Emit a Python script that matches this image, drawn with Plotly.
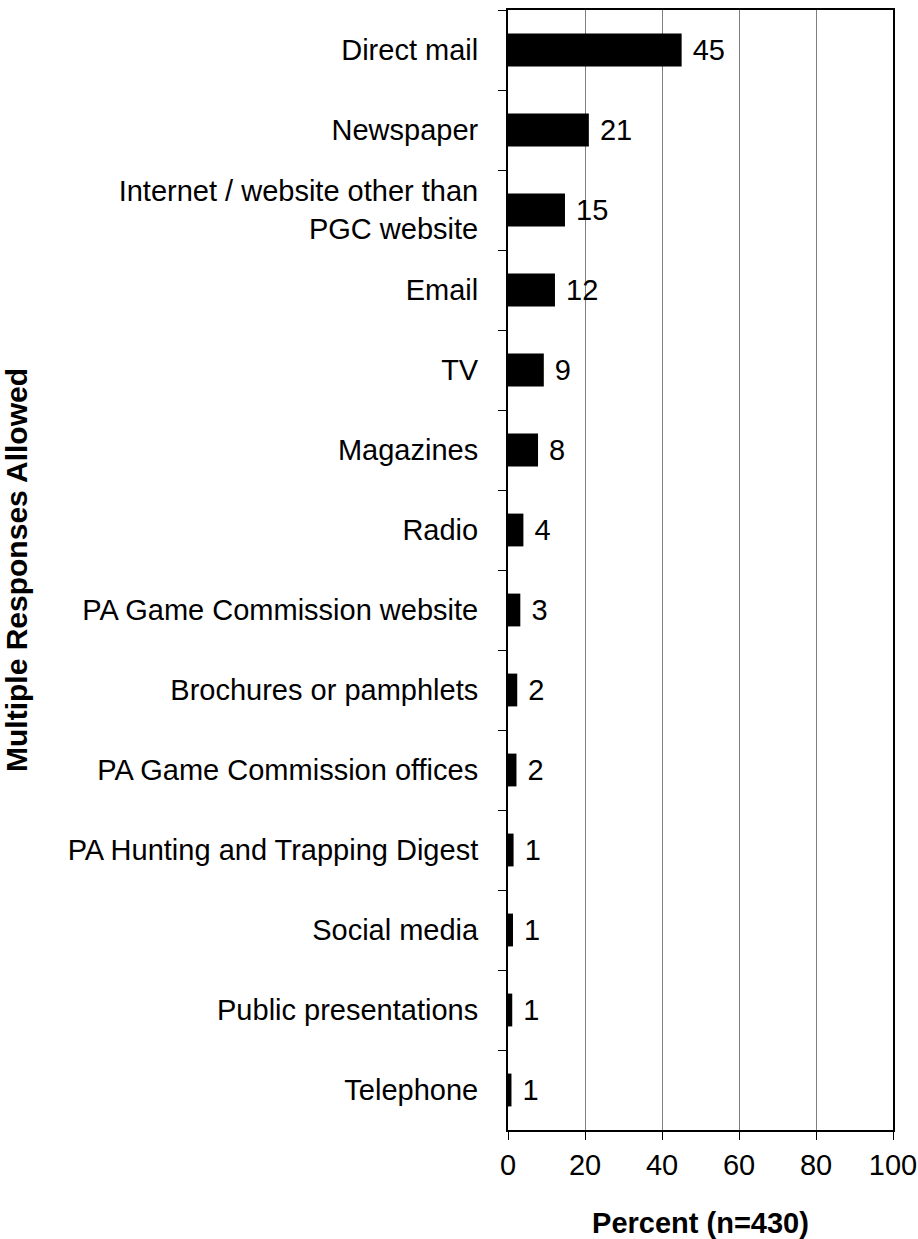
# Information sources, percent of respondents (n=430)

import plotly.graph_objects as go

sources = [
    'Direct mail',
    'Newspaper',
    'Internet / website other than<br>PGC website',
    'Email',
    'TV',
    'Magazines',
    'Radio',
    'PA Game Commission website',
    'Brochures or pamphlets',
    'PA Game Commission offices',
    'PA Hunting and Trapping Digest',
    'Social media',
    'Public presentations',
    'Telephone',
]
percent = [45.1, 21.0, 14.8, 12.2, 9.3, 7.8, 4.0, 3.2, 2.4, 2.2, 1.45, 1.3, 1.1, 0.9]

x_ticks = [0, 20, 40, 60, 80, 100]

FONT = 'Liberation Sans, Arial, sans-serif'

fig = go.Figure(go.Bar(
    x=percent,
    y=sources,
    orientation='h',
    marker=dict(color='black', line=dict(width=0)),
    texttemplate=' %{x:.0f}',
    textposition='outside',
    textfont=dict(size=29, color='black', family=FONT),
    cliponaxis=False,
))

fig.update_layout(
    width=918, height=1239,
    margin=dict(l=508, r=25, t=10, b=109),
    paper_bgcolor='white', plot_bgcolor='white',
    bargap=0.59,
    showlegend=False,
    font=dict(family=FONT, size=29, color='black'),
)

fig.update_xaxes(
    range=[0, 100],
    tickvals=x_ticks,
    ticks='outside', ticklen=8, tickcolor='black', tickwidth=1,
    showgrid=True, gridcolor='#808080', gridwidth=1,
    showline=True, linecolor='black', linewidth=2, mirror=True,
    zeroline=False,
    tickfont=dict(size=29),
    automargin=False,
    title=dict(text='<b>Percent (n=430)</b>', font=dict(size=29), standoff=38),
)

fig.update_yaxes(
    autorange='reversed',
    ticks='outside', ticklen=8, tickcolor='black', tickwidth=1,
    tickson='boundaries',
    showgrid=False,
    showline=True, linecolor='black', linewidth=2, mirror=True,
    tickfont=dict(size=29),
    ticklabelstandoff=22,
    automargin=False,
    title=dict(text='<b>Multiple Responses Allowed</b>', font=dict(size=30), standoff=32),
)

# drop the default 8px body margin so the figure fills the window
fig.write_html("out.html",
               config={'displayModeBar': False},
               post_script="document.body.style.margin = '0';")
